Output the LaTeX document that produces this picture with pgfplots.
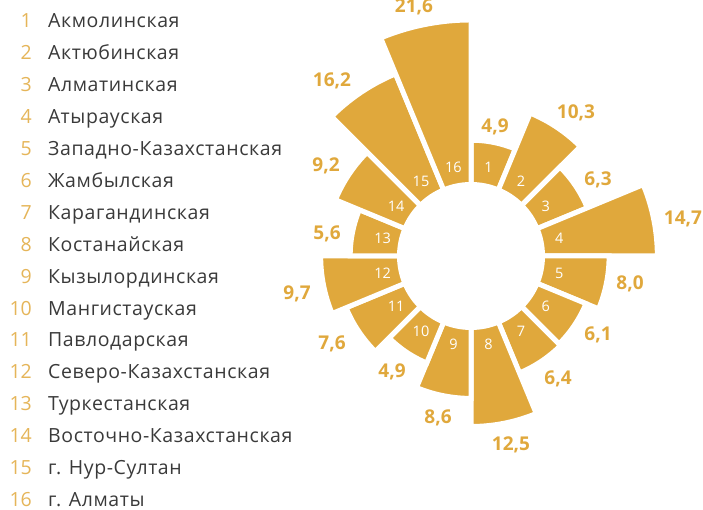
\documentclass[border=0pt]{standalone}
\usepackage{pgfplots}
\pgfplotsset{compat=1.18}
\usepackage{pgfplotstable}
\usepackage{fontspec}
\setmainfont{Open Sans}
\newfontfamily\legfont{Open Sans}[LetterSpace=3]
\definecolor{gold}{HTML}{E0A83C}
\definecolor{txt}{HTML}{3A3A3A}
% sector values (region index, value)
\pgfplotstableread{
i v
1 4.9
2 10.3
3 6.3
4 14.7
5 8.0
6 6.1
7 6.4
8 12.5
9 8.6
10 4.9
11 7.6
12 9.7
13 5.6
14 9.2
15 16.2
16 21.6
}\rosedata
\newcommand\sector[1]{%
  \pgfplotstablegetelem{#1}{v}\of\rosedata
  \pgfmathsetmacro\sa{90-22.5*(#1+1)}%
  \pgfmathsetmacro\sb{112.5-22.5*(#1+1)}%
  \pgfmathsetmacro\sr{80.5+7.2*\pgfplotsretval}%
  \edef\tmp{\noexpand\addplot[fill=gold, draw=white, line width=5pt, domain=\sa:\sb, samples=40]
    ({\sr*cos(x)},{\sr*sin(x)}) -- (axis cs:0,0) -- cycle;}%
  \tmp}
\begin{document}
\begin{tikzpicture}[x=1pt,y=1pt]
\useasboundingbox (0,0) rectangle (703,510);
\begin{axis}[x=1pt, y=1pt, hide axis, anchor=origin, at={(471,254)},
  xmin=-250, xmax=250, ymin=-250, ymax=250, clip=false]
\pgfplotsinvokeforeach{0,...,15}{\sector{#1}}
\addplot[fill=white, draw=none, domain=0:360, samples=120] ({74*cos(x)},{74*sin(x)}) -- cycle;
\end{axis}
% sector numbers
\foreach \i in {1,...,16}
  \node[white, font=\fontsize{14.5}{18}\selectfont, inner sep=0pt]
    at ({471+90*sin(22.5*\i-11.25)}, {254+90*cos(22.5*\i-11.25)}) {\i};
% value labels (image coords x, y -> 510-y), baseline = center + 7
\foreach \px/\py/\t in {495/126/{4,9}, 576/112/{10,3}, 598/179/{6,3}, 683/218/{14,7},
    630/283/{8,0}, 598/334/{6,1}, 558/378/{6,4}, 511/444/{12,5}, 438/417/{8,6},
    392/371/{4,9}, 332/343/{7,6}, 297/293/{9,7}, 327/233/{5,6}, 326/165/{9,2},
    332/80/{16,2}, 414/6/{21,6}}
  \node[gold, font=\fontsize{19}{22}\selectfont\bfseries, anchor=base, inner sep=0pt]
    at (\px, {510-\py-7}) {\t};
% legend
\foreach \n/\name in {1/Акмолинская, 2/Актюбинская, 3/Алматинская, 4/Атырауская,
    5/Западно-Казахстанская, 6/Жамбылская, 7/Карагандинская, 8/Костанайская,
    9/Кызылординская, 10/Мангистауская, 11/Павлодарская, 12/Северо-Казахстанская,
    13/Туркестанская, 14/Восточно-Казахстанская, 15/г. Нур-Султан, 16/г. Алматы}{
  \pgfmathsetmacro\yb{510-(20.7+31.95*(\n-1))-6.8}
  \node[gold!85!white, font=\fontsize{19.5}{22}\selectfont, anchor=base east, inner sep=0pt] at (32,\yb) {\n};
  \node[txt, font=\fontsize{19.5}{22}\legfont, anchor=base west, inner sep=0pt] at (48,\yb) {\name};
}
\end{tikzpicture}
\end{document}
